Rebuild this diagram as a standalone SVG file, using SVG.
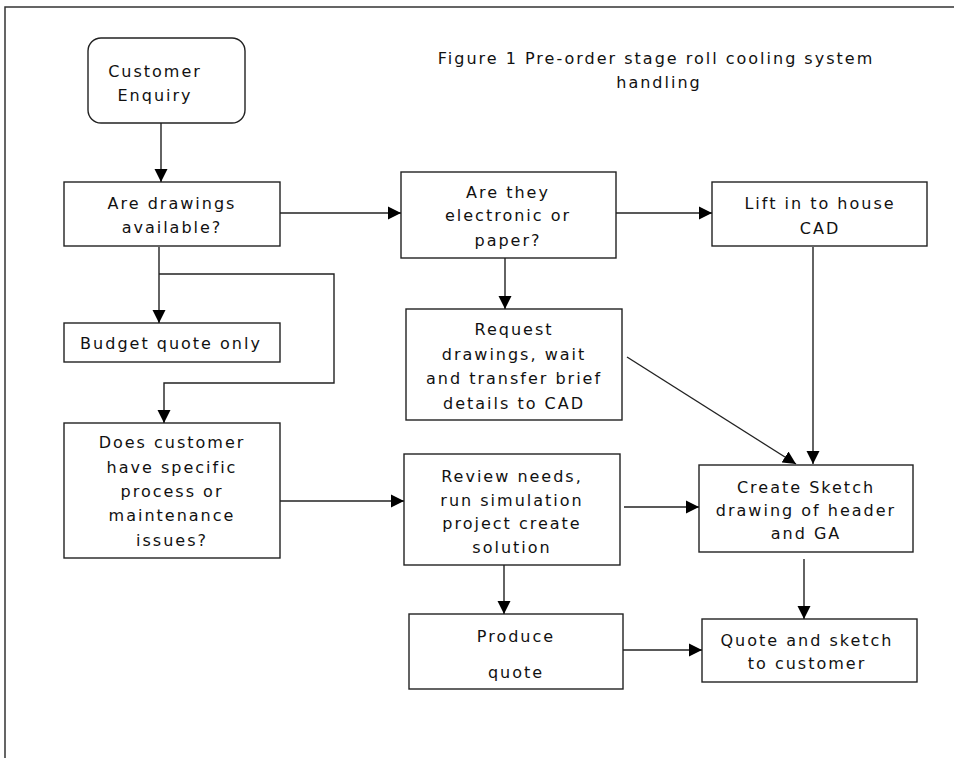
<svg xmlns="http://www.w3.org/2000/svg" width="954" height="758" viewBox="0 0 954 758">
<style>
  .box { fill: #ffffff; stroke: #222222; stroke-width: 1.4; }
  .t { font-family: "DejaVu Sans", Verdana, sans-serif; font-size: 16px; letter-spacing: 2px; fill: #111111; text-anchor: middle; }
  .c { fill: none; stroke: #222222; stroke-width: 1.4; }
  .frame { fill: none; stroke: #333333; stroke-width: 1.5; }
</style>
<defs>
  <marker id="ah" markerUnits="userSpaceOnUse" markerWidth="14" markerHeight="14" refX="13" refY="7" orient="auto">
    <path d="M0,0.5 L13,7 L0,13.5 Z" fill="#000000"/>
  </marker>
</defs>
<rect x="0" y="0" width="954" height="758" fill="#ffffff"/>
<path class="frame" d="M5,758 L5,7 L954,7"/>

<g id="title">
  <text class="t" x="656" y="64">Figure 1 Pre-order stage roll cooling system</text>
  <text class="t" x="659" y="88">handling</text>
</g>

<g id="customer-enquiry">
  <rect class="box" x="88" y="38" width="157" height="85" rx="13" ry="13"/>
  <text class="t" x="155" y="77">Customer</text>
  <text class="t" x="155" y="101">Enquiry</text>
</g>

<g id="drawings-available">
  <rect class="box" x="64" y="182" width="216" height="64"/>
  <text class="t" x="172" y="209">Are drawings</text>
  <text class="t" x="172" y="233">available?</text>
</g>

<g id="budget-quote">
  <rect class="box" x="64" y="323" width="216" height="39"/>
  <text class="t" x="171" y="349">Budget quote only</text>
</g>

<g id="specific-issues">
  <rect class="box" x="64" y="423" width="216" height="135"/>
  <text class="t" x="172" y="448">Does customer</text>
  <text class="t" x="172" y="473">have specific</text>
  <text class="t" x="172" y="497">process or</text>
  <text class="t" x="172" y="521">maintenance</text>
  <text class="t" x="172" y="546">issues?</text>
</g>

<g id="electronic-or-paper">
  <rect class="box" x="401" y="172" width="215" height="86"/>
  <text class="t" x="508" y="198">Are they</text>
  <text class="t" x="508" y="221">electronic or</text>
  <text class="t" x="508" y="246">paper?</text>
</g>

<g id="lift-cad">
  <rect class="box" x="712" y="182" width="215" height="64"/>
  <text class="t" x="820" y="209">Lift in to house</text>
  <text class="t" x="820" y="234">CAD</text>
</g>

<g id="request-drawings">
  <rect class="box" x="406" y="309" width="216" height="111"/>
  <text class="t" x="514" y="335">Request</text>
  <text class="t" x="514" y="360">drawings, wait</text>
  <text class="t" x="514" y="384">and transfer brief</text>
  <text class="t" x="514" y="409">details to CAD</text>
</g>

<g id="review-needs">
  <rect class="box" x="404" y="454" width="216" height="111"/>
  <text class="t" x="512" y="482">Review needs,</text>
  <text class="t" x="512" y="506">run simulation</text>
  <text class="t" x="512" y="529">project create</text>
  <text class="t" x="512" y="553">solution</text>
</g>

<g id="create-sketch">
  <rect class="box" x="699" y="465" width="214" height="87"/>
  <text class="t" x="806" y="493">Create Sketch</text>
  <text class="t" x="806" y="516">drawing of header</text>
  <text class="t" x="806" y="539">and GA</text>
</g>

<g id="produce-quote">
  <rect class="box" x="409" y="614" width="214" height="75"/>
  <text class="t" x="516" y="642">Produce</text>
  <text class="t" x="516" y="678">quote</text>
</g>

<g id="quote-sketch-customer">
  <rect class="box" x="702" y="619" width="215" height="63"/>
  <text class="t" x="807" y="646">Quote and sketch</text>
  <text class="t" x="807" y="669">to customer</text>
</g>

<g id="connectors">
  <path class="c" d="M161,123 L161,182" marker-end="url(#ah)"/>
  <path class="c" d="M280,213 L401,213" marker-end="url(#ah)"/>
  <path class="c" d="M616,213 L712,213" marker-end="url(#ah)"/>
  <path class="c" d="M159,247 L159,323" marker-end="url(#ah)"/>
  <path class="c" d="M159,274 L334,274 L334,383 L164,383 L164,423" marker-end="url(#ah)"/>
  <path class="c" d="M505,258 L505,309" marker-end="url(#ah)"/>
  <path class="c" d="M813,247 L813,464" marker-end="url(#ah)"/>
  <path class="c" d="M627,357 L796,464" stroke-width="1" marker-end="url(#ah)"/>
  <path class="c" d="M280,501 L404,501" marker-end="url(#ah)"/>
  <path class="c" d="M624,507 L699,507" marker-end="url(#ah)"/>
  <path class="c" d="M504,565 L504,614" marker-end="url(#ah)"/>
  <path class="c" d="M804,559 L804,619" marker-end="url(#ah)"/>
  <path class="c" d="M623,650 L702,650" marker-end="url(#ah)"/>
</g>
</svg>
